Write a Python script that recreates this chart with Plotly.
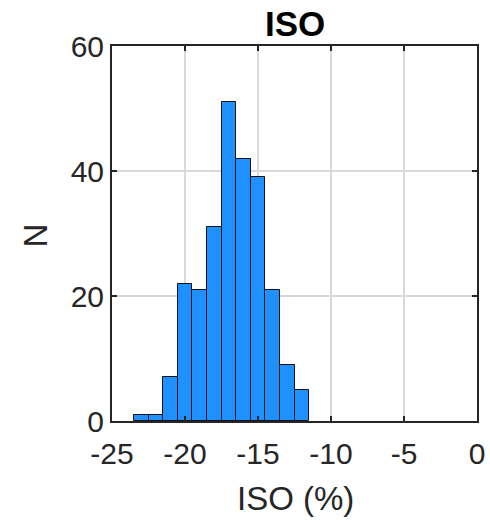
import plotly.graph_objects as go

bin_centers = [-23, -22, -21, -20, -19, -18, -17, -16, -15, -14, -13, -12]
counts = [1, 1, 7, 22, 21, 31, 51, 42, 39, 21, 9, 5]
x_ticks = [-25, -20, -15, -10, -5, 0]
x_ticktext = ["-25", "-20", "-15", "-10", "-5", "0"]
y_ticks = [0, 20, 40, 60]

font = "Liberation Sans, Arial, sans-serif"
axis_col = "#262626"

L, R, T, B = 112, 13, 46, 99
W, H = 490, 520
pw, ph = W - L - R, H - T - B

def px_x(px):
    return (px - L) / pw

def px_y(py):
    return (H - B - py) / ph

fig = go.Figure()
fig.add_trace(go.Bar(
    x=bin_centers, y=counts, width=1,
    marker=dict(color="#1E90FF", line=dict(color="#111111", width=1)),
))

fig.update_layout(
    width=W, height=H,
    margin=dict(l=L, r=R, t=T, b=B),
    paper_bgcolor="white", plot_bgcolor="white",
    showlegend=False,
    bargap=0,
    font=dict(family=font, color=axis_col),
)
fig.update_xaxes(
    range=[-25, 0], tickvals=x_ticks, ticktext=x_ticktext,
    showgrid=True, gridcolor="#d9d9d9", gridwidth=1.6,
    showline=True, linecolor=axis_col, linewidth=2, mirror="ticks",
    ticks="inside", ticklen=5, tickwidth=2, tickcolor=axis_col,
    tickfont=dict(size=30, color=axis_col), automargin=False,
    ticklabelstandoff=5,
    zeroline=False,
)
fig.update_yaxes(
    range=[0, 60], tickvals=y_ticks,
    showgrid=True, gridcolor="#d9d9d9", gridwidth=1.6,
    showline=True, linecolor=axis_col, linewidth=2, mirror="ticks",
    ticks="inside", ticklen=5, tickwidth=2, tickcolor=axis_col,
    tickfont=dict(size=30, color=axis_col), automargin=False,
    zeroline=False,
)
fig.add_annotation(text="<b>ISO</b>", xref="paper", yref="paper",
                   x=px_x(295), y=px_y(23), xanchor="center", yanchor="middle",
                   showarrow=False, font=dict(family=font, size=35, color="#000000"))
fig.add_annotation(text="ISO (%)", xref="paper", yref="paper",
                   x=px_x(295), y=px_y(498), xanchor="center", yanchor="middle",
                   showarrow=False, font=dict(family=font, size=33, color=axis_col))
fig.add_annotation(text="N", xref="paper", yref="paper", textangle=-90,
                   x=px_x(35), y=px_y(235.5), xanchor="center", yanchor="middle",
                   showarrow=False, font=dict(family=font, size=33, color=axis_col))
fig.write_html("out.html", config={"displayModeBar": False},
               post_script="document.body.style.margin='0';document.body.style.overflow='hidden';")
